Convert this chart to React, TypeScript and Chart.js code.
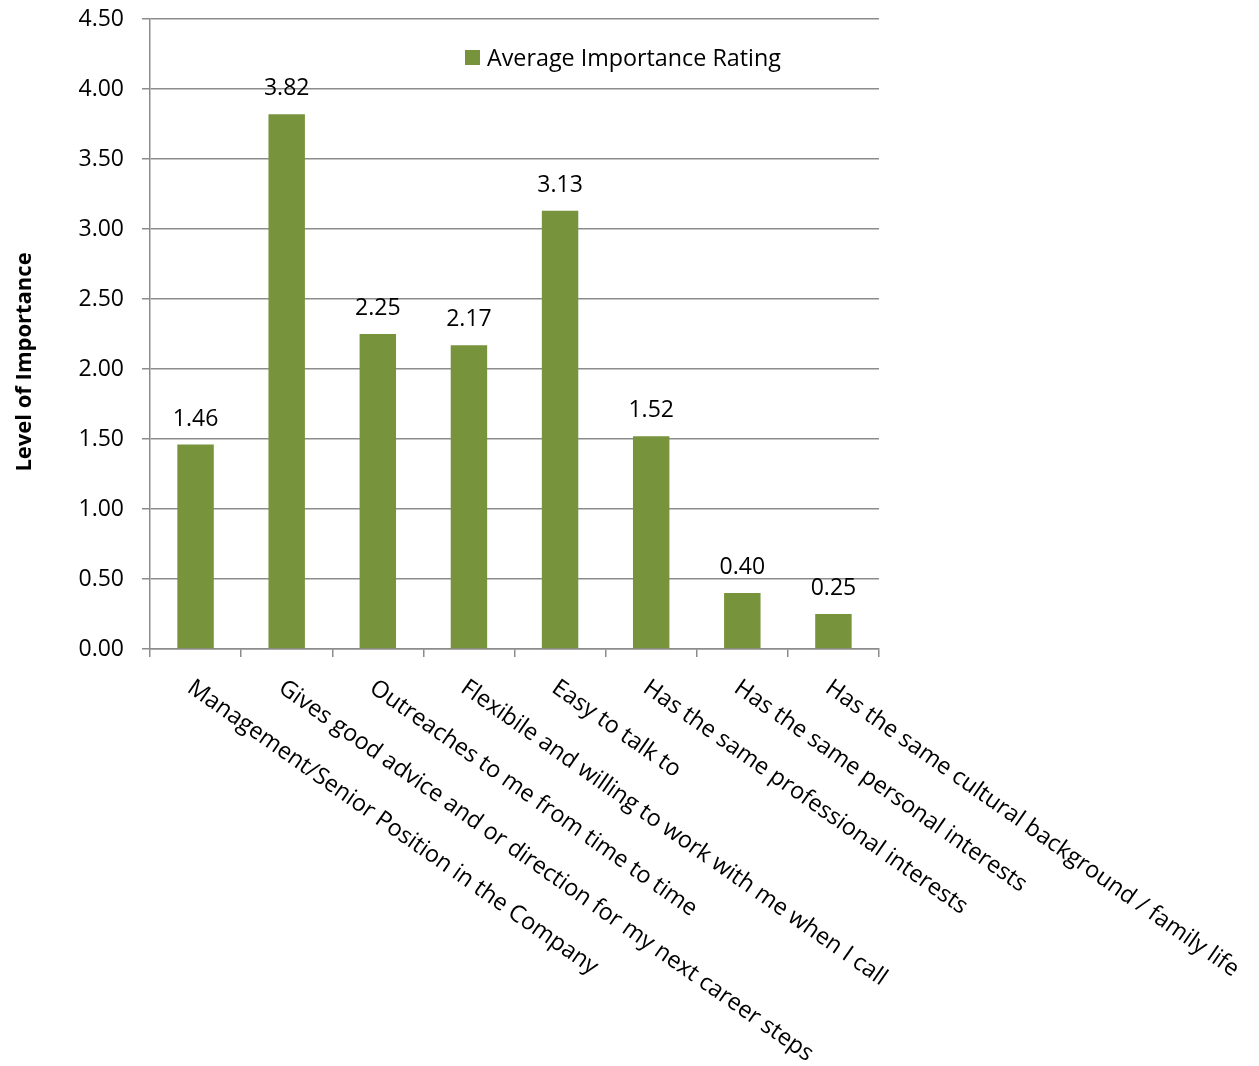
import React, { useEffect, useRef } from "react";
import { Chart, registerables } from "chart.js";
Chart.register(...registerables);

const categories = [
  "Management/Senior Position in the Company",
  "Gives good advice and or direction for my next career steps",
  "Outreaches to me from time to time",
  "Flexibile and willing to work with me when I call",
  "Easy to talk to",
  "Has the same professional interests",
  "Has the same personal interests",
  "Has the same cultural background / family life",
];
const values = [1.46, 3.82, 2.25, 2.17, 3.13, 1.52, 0.4, 0.25];
const seriesLabel = "Average Importance Rating";
const yAxisTitle = "Level of Importance";
const yMin = 0;
const yMax = 4.5;
const yStep = 0.5;

const FONT = "'Open Sans', sans-serif";
const GREEN = "#77933C";
const GRID = "#8c8c8c";
const W = 1259;
const H = 1066;

const overlay = {
  id: "overlay",
  afterDraw(chart: any) {
    const ctx = chart.ctx as CanvasRenderingContext2D;
    const xs = chart.scales.x;
    const area = chart.chartArea;
    ctx.save();
    ctx.fillStyle = "#000";
    ctx.font = `23px ${FONT}`;
    ctx.textAlign = "center";
    ctx.textBaseline = "alphabetic";
    const meta = chart.getDatasetMeta(0);
    meta.data.forEach((bar: any, i: number) => {
      ctx.fillText(values[i].toFixed(2), bar.x, bar.y - 19);
    });
    ctx.font = `23.4px ${FONT}`;
    ctx.textAlign = "left";
    ctx.textBaseline = "top";
    categories.forEach((c, i) => {
      const px = xs.getPixelForValue(i);
      ctx.save();
      ctx.translate(px + 1, area.bottom + 27);
      ctx.rotate((35 * Math.PI) / 180);
      ctx.fillText(c, 0, 0);
      ctx.restore();
    });
    // y title
    ctx.save();
    ctx.font = `bold 22px ${FONT}`;
    ctx.textAlign = "center";
    ctx.textBaseline = "alphabetic";
    ctx.translate(31, 362);
    ctx.rotate(-Math.PI / 2);
    ctx.fillText(yAxisTitle, 0, 0);
    ctx.restore();
    // legend
    ctx.fillStyle = GREEN;
    ctx.fillRect(465, 50, 15, 15);
    ctx.fillStyle = "#000";
    ctx.font = `23.3px ${FONT}`;
    ctx.textAlign = "left";
    ctx.textBaseline = "alphabetic";
    ctx.fillText(seriesLabel, 487, 66);
    ctx.restore();
  },
};

export default function App() {
  const ref = useRef<HTMLCanvasElement>(null);
  useEffect(() => {
    if (!ref.current) return;
    const chart = new Chart(ref.current, {
      type: "bar",
      data: {
        labels: categories,
        datasets: [
          {
            label: seriesLabel,
            data: values,
            backgroundColor: GREEN,
            borderWidth: 0,
            barPercentage: 0.4,
            categoryPercentage: 1,
          },
        ],
      },
      options: {
        responsive: false,
        maintainAspectRatio: false,
        animation: false,
        layout: { padding: { top: 19, right: 380, bottom: 0, left: 0 } },
        plugins: { legend: { display: false }, tooltip: { enabled: false } },
        scales: {
          x: {
            afterFit: (s: any) => {
              s.height = 1066 - 649;
              s.paddingLeft = 0;
              s.paddingRight = 0;
            },
            grid: {
              display: true,
              drawOnChartArea: false,
              drawTicks: true,
              tickLength: 8,
              offset: true,
              color: GRID,
              lineWidth: 1.5,
            },
            border: { display: true, color: GRID, width: 1.5 },
            ticks: { display: false },
          },
          y: {
            min: yMin,
            max: yMax,
            afterFit: (s: any) => {
              s.width = 150;
              s.paddingTop = 0;
              s.paddingBottom = 0;
            },
            ticks: {
              stepSize: yStep,
              padding: 18,
              color: "#000",
              font: { family: FONT, size: 23 },
              callback: (v: any) => Number(v).toFixed(2),
            },
            grid: {
              color: GRID,
              lineWidth: 1.5,
              tickLength: 8,
              drawTicks: true,
            },
            border: { display: true, color: GRID, width: 1.5 },
          },
        },
      },
      plugins: [overlay],
    });
    return () => chart.destroy();
  }, []);
  return (
    <div style={{ position: "fixed", left: 0, top: 0, width: W, height: H, background: "#fff" }}>
      <canvas ref={ref} width={W} height={H} style={{ width: W, height: H }} />
    </div>
  );
}
